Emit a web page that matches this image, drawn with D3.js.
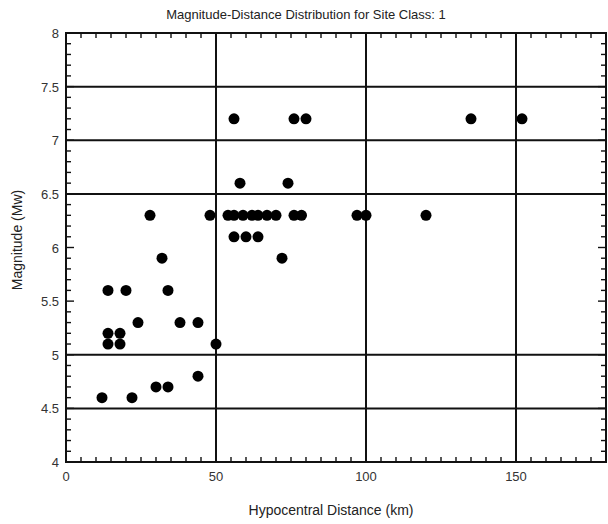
<!DOCTYPE html>
<html><head><meta charset="utf-8">
<script src="https://cdn.jsdelivr.net/npm/d3@7/dist/d3.min.js"></script>
<style>body{margin:0;background:#fff}svg{display:block}text{font-family:"Liberation Sans",Arial,sans-serif}</style>
</head><body>
<svg id="c" width="608" height="524"></svg>
<script>
const distance = [56,76,80,135,152, 58,74, 28,48,54,56,59,62,64,67,70,76,78.5,97,100,120, 56,60,64, 32,72, 14,20,34, 24,38,44, 14,18, 14,18,50, 44, 30,34, 12,22];
const magnitude = [7.2,7.2,7.2,7.2,7.2, 6.6,6.6, 6.3,6.3,6.3,6.3,6.3,6.3,6.3,6.3,6.3,6.3,6.3,6.3,6.3,6.3, 6.1,6.1,6.1, 5.9,5.9, 5.6,5.6,5.6, 5.3,5.3,5.3, 5.2,5.2, 5.1,5.1,5.1, 4.8, 4.7,4.7, 4.6,4.6];
const xTicks = [0,50,100,150];
const yTicks = [4,4.5,5,5.5,6,6.5,7,7.5,8];
const xGrid = [50,100,150];
const yGrid = [4.5,5,6.5,7,7.5];
const title = "Magnitude-Distance Distribution for Site Class: 1";

const svg = d3.select("#c");
const L=66,R=606,T=33,B=462;
const x = d3.scaleLinear().domain([0,180]).range([L,R]);
const y = d3.scaleLinear().domain([4,8]).range([B,T]);
const g = svg.append("g");

// minor ticks
const xMinor = d3.range(0,181,5), yMinor = d3.range(40,81,1).map(v=>v/10);
g.selectAll(".xmb").data(xMinor).join("line").attr("x1",d=>x(d)).attr("x2",d=>x(d)).attr("y1",B).attr("y2",d=>B-(d%50===0?8:5)).attr("stroke","#111").attr("stroke-width",1.4);
g.selectAll(".xmt").data(xMinor).join("line").attr("x1",d=>x(d)).attr("x2",d=>x(d)).attr("y1",T).attr("y2",d=>T+(d%50===0?8:5)).attr("stroke","#111").attr("stroke-width",1.4);
g.selectAll(".yml").data(yMinor).join("line").attr("y1",d=>y(d)).attr("y2",d=>y(d)).attr("x1",L).attr("x2",d=>L+(Math.round(d*10)%5===0?8:5)).attr("stroke","#111").attr("stroke-width",1.4);
g.selectAll(".ymr").data(yMinor).join("line").attr("y1",d=>y(d)).attr("y2",d=>y(d)).attr("x1",R).attr("x2",d=>R-(Math.round(d*10)%5===0?8:5)).attr("stroke","#111").attr("stroke-width",1.4);

// grid
g.selectAll(".gx").data(xGrid).join("line").attr("x1",d=>x(d)).attr("x2",d=>x(d)).attr("y1",T).attr("y2",B).attr("stroke","#111").attr("stroke-width",2);
g.selectAll(".gy").data(yGrid).join("line").attr("y1",d=>y(d)).attr("y2",d=>y(d)).attr("x1",L).attr("x2",R).attr("stroke","#111").attr("stroke-width",2);

// frame
g.append("rect").attr("x",L).attr("y",T).attr("width",R-L).attr("height",B-T).attr("fill","none").attr("stroke","#111").attr("stroke-width",2);

// tick labels
g.selectAll(".xl").data(xTicks).join("text").attr("x",d=>x(d)).attr("y",B+19).attr("text-anchor","middle").attr("font-size",13).attr("fill","#333").text(d=>d);
g.selectAll(".yl").data(yTicks).join("text").attr("x",L-7).attr("y",d=>y(d)+5).attr("text-anchor","end").attr("font-size",13).attr("fill","#333").text(d=>d);

// points
g.selectAll(".pt").data(distance.map((d,i)=>[d,magnitude[i]])).join("circle").attr("cx",d=>x(d[0])).attr("cy",d=>y(d[1])).attr("r",5.5).attr("fill","#000");

// labels
svg.append("text").attr("x",306).attr("y",19).attr("text-anchor","middle").attr("font-size",13).attr("fill","#222").text(title);
svg.append("text").attr("x",331).attr("y",515).attr("text-anchor","middle").attr("font-size",14).attr("fill","#222").text("Hypocentral Distance (km)");
svg.append("text").attr("transform","translate(22,240) rotate(-90)").attr("text-anchor","middle").attr("font-size",14).attr("fill","#222").text("Magnitude (Mw)");
</script>
</body></html>
